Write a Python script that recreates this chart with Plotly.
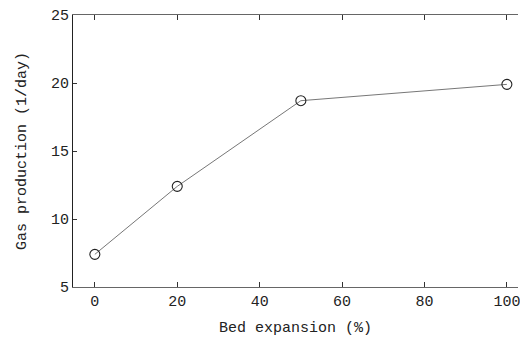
import plotly.graph_objects as go

bed_expansion = [0, 20, 50, 100]
gas_production = [7.4, 12.4, 18.7, 19.9]

fig = go.Figure()
fig.add_trace(go.Scatter(
    x=bed_expansion, y=gas_production, mode="lines+markers",
    line=dict(color="#777777", width=1),
    marker=dict(symbol="circle-open", size=10, color="#222222", line=dict(width=1.1)),
    showlegend=False,
))
font = dict(family="Liberation Mono, DejaVu Sans Mono, monospace", size=15, color="#222222")
fig.update_layout(
    width=512, height=331,
    margin=dict(l=65, r=0, t=7, b=52),
    paper_bgcolor="white", plot_bgcolor="white",
    font=font,
)
fig.update_xaxes(
    range=[-5.3, 102.7], tickvals=[0, 20, 40, 60, 80, 100],
    ticks="inside", ticklen=5, tickcolor="#333", tickwidth=1,
    showline=True, linecolor="#666", linewidth=1, mirror="ticks",
    showgrid=False, zeroline=False, ticklabeloverflow="allow",
    title=dict(text="Bed expansion (%)", standoff=11, font=font),
)
fig.update_yaxes(
    range=[5, 25], tickvals=[5, 10, 15, 20, 25],
    ticks="inside", ticklen=4, tickcolor="#333", tickwidth=1,
    showline=True, linecolor="#222", linewidth=1.2, mirror=False,
    showgrid=False, zeroline=False, ticklabeloverflow="allow",
    title=dict(text="Gas production (1/day)", standoff=20, font=font),
)
fig.update_layout(yaxis2=dict(
    overlaying="y", side="right", range=[5, 25], tickvals=[10, 15, 20],
    ticks="inside", ticklen=4, tickcolor="#333", showticklabels=False,
    showline=False, showgrid=False, zeroline=False,
))
fig.write_html("out.html")
